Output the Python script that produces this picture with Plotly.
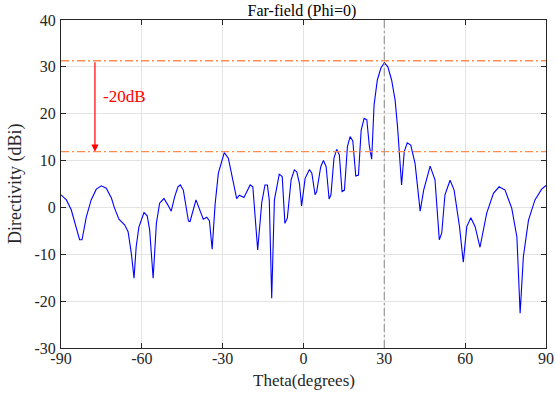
import plotly.graph_objects as go

theta = [-90, -88, -86.2, -84.3, -83.1, -82.2, -80.6, -78.8, -76.9, -75, -73.2, -71.3, -70.1, -68.5,
         -66.4, -65.1, -63.9, -62.9, -62.1, -61.1, -59.2, -58, -57.1, -55.8, -54.6, -53.4, -51.8,
         -50.3, -49.1, -47.8, -46.6, -45.7, -44.6, -42.7, -42.1, -39.9, -38.4, -37.2, -35.9, -34.9,
         -33.9, -32.8, -31.6, -29.4, -27.9, -26.6, -24.8, -23.8, -22.1, -19.8, -18.8, -17, -15.5,
         -14.3, -13.4, -12.7, -11.8, -10.8, -9.0, -7.9, -6.9, -6.0, -4.6, -3.4, -2.5, -1.5, -0.7,
         0.6, 2.2, 3.1, 4.3, 4.9, 6.4, 7.4, 8.4, 9.5, 10.2, 11.3, 12.3, 13.3, 14.3, 15.2, 16.3,
         17.3, 18.3, 19.4, 20.4, 21.4, 22.5, 23.5, 24.4, 25.3, 26.2, 27.4, 28.7, 30.0, 31.3, 32.7,
         34.0, 34.9, 36.4, 37.4, 38.5, 39.8, 41.4, 43.3, 44.6, 47.0, 48.8, 50.4, 51.3, 52.5, 54.4,
         55.9, 57.9, 59.3, 60.6, 62.1, 63.7, 65.5, 68.0, 70.5, 72.6, 74.8, 77.3, 79.2, 80.4, 81.6,
         83.5, 85.9, 88.4, 90]
directivity = [2.7, 1.6, -0.5, -4.1, -6.9, -6.9, -2.0, 1.6, 3.9, 4.6, 4.1, 2.0, -0.2, -2.5,
               -3.7, -5.2, -9.8, -15.1, -8.4, -4.2, -1.1, -1.8, -4.8, -15.1, -3.4, 0.9, 1.9,
               0.5, -0.8, 2.3, 4.4, 4.8, 3.7, -2.9, -3.0, 1.6, -0.5, -2.5, -2.1, -2.9,
               -8.9, 0.7, 7.3, 11.7, 10.5, 6.6, 1.9, 2.6, 2.1, 4.8, 4.4, -9.1, 1.0,
               4.8, 4.8, 1.6, -19.4, 1.6, 7.1, 6.6, -3.4, -2.3, 5.9, 8.0, 7.6, 5.1, 0.3,
               6.2, 8.1, 7.3, 2.7, 3.4, 8.7, 10.0, 8.7, 1.8, 2.7, 10.5, 12.4, 11.2, 3.4, 3.7, 13.0,
               15.1, 14.2, 6.7, 6.9, 16.5, 19.0, 18.7, 13.3, 10.3, 21.9, 27.2, 29.7, 30.9, 30.0, 27.2,
               22.9, 17.2, 4.8, 11.9, 13.8, 13.3, 9.4, -0.8, 3.7, 8.8, 5.9, -6.9, -5.5, 2.7, 5.8,
               3.7, -4.1, -11.7, -4.1, -2.2, -4.1, -8.5, -1.2, 3.0, 4.4, 3.7, -0.2, -6.3, -22.6, -10.5,
               -2.7, 1.6, 3.9, 4.7]

x_ticks = [-90, -60, -30, 0, 30, 60, 90]
x_tick_labels = ["-90", "-60", "-30", "0", "30", "60", "90"]
y_ticks = [-30, -20, -10, 0, 10, 20, 30, 40]
y_tick_labels = ["-30", "-20", "-10", "0", "10", "20", "30", "40"]

peak_level = 31.3
sidelobe_level = 11.9
steer_angle = 30
arrow_theta = -77.4

FONT = "Liberation Serif"
TXT = "#262626"

fig = go.Figure()
fig.add_trace(go.Scatter(x=theta, y=directivity, mode="lines",
                         line=dict(color="#0000ff", width=1.1), showlegend=False))

for lvl in (peak_level, sidelobe_level):
    fig.add_shape(type="line", xref="x", yref="y", x0=-90, x1=90, y0=lvl, y1=lvl,
                  line=dict(color="#ff8c50", width=1.3, dash="8px,3px,2px,3px"))
fig.add_shape(type="line", xref="x", yref="y", x0=steer_angle, x1=steer_angle, y0=-30, y1=40,
              line=dict(color="#a0a0a0", width=1.3, dash="8px,3px,2px,3px"))

fig.add_annotation(x=arrow_theta, y=sidelobe_level, ax=arrow_theta, ay=peak_level,
                   xref="x", yref="y", axref="x", ayref="y", text="", showarrow=True,
                   arrowhead=2, arrowsize=1.2, arrowwidth=1.2, arrowcolor="#ff0000")
fig.add_annotation(x=-75.0, y=23.6, xref="x", yref="y", text="-20dB", showarrow=False,
                   xanchor="left", yanchor="middle",
                   font=dict(family=FONT, size=17, color="#ff0000"))

# axis titles placed as paper annotations
fig.add_annotation(x=0.5, y=-0.098, xref="paper", yref="paper", text="Theta(degrees)",
                   showarrow=False, xanchor="center", yanchor="middle",
                   font=dict(family=FONT, size=17, color=TXT))
fig.add_annotation(x=-0.095, y=0.5, xref="paper", yref="paper", text="Directivity (dBi)",
                   showarrow=False, xanchor="center", yanchor="middle", textangle=-90,
                   font=dict(family=FONT, size=18, color=TXT))

axis_common = dict(showline=True, linecolor="#262626", linewidth=1, mirror="allticks",
                   ticks="inside", ticklen=5, tickcolor="#262626", showgrid=True,
                   gridcolor="#e3e3e3", gridwidth=1, zeroline=False, automargin=False,
                   tickfont=dict(family=FONT, size=16, color=TXT))

fig.update_layout(
    width=556, height=397,
    margin=dict(l=61, r=10, t=20, b=49),
    plot_bgcolor="white", paper_bgcolor="white",
    font=dict(family=FONT),
    title=dict(text="Far-field (Phi=0)", x=0.543, xanchor="center", y=0.975, yanchor="middle",
               font=dict(family=FONT, size=16, color="#000000")),
    xaxis=dict(range=[-90, 90], tickvals=x_ticks, ticktext=x_tick_labels,
               ticklabelstandoff=-4, **axis_common),
    yaxis=dict(range=[-30, 40], tickvals=y_ticks, ticktext=y_tick_labels,
               ticklabelstandoff=1, **axis_common),
)

fig.write_html("out.html")
